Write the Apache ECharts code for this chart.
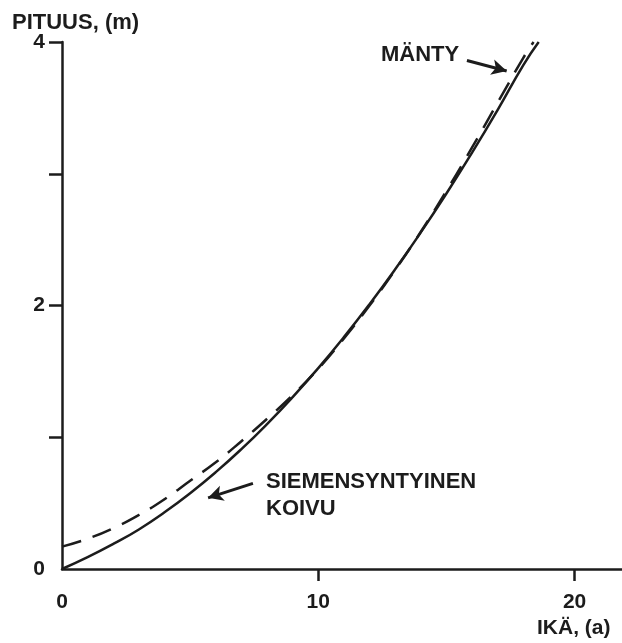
<!DOCTYPE html>
<html>
<head>
<meta charset="utf-8">
<script src="https://cdn.jsdelivr.net/npm/echarts@6/dist/echarts.min.js"></script>
<style>
  html, body { margin: 0; padding: 0; background: #fff; }
  #chart { width: 622px; height: 643px; }
</style>
</head>
<body>
<div id="chart"></div>
<script>
// Age in years (IKÄ) and height in metres (PITUUS)
const ages = [0, 1, 2, 3, 4, 5, 6, 7, 8, 9, 10, 11, 12, 13, 14, 15, 16, 17, 18];
// Seedling-origin birch (solid line)
const koivuAges = ages.concat([18.6]);
const koivuHeights = [0, 0.09, 0.19, 0.30, 0.43, 0.575, 0.735, 0.91, 1.10, 1.305, 1.525, 1.76, 2.01, 2.275, 2.555, 2.85, 3.16, 3.485, 3.825, 4.0];
// Scots pine (dashed line)
const mantyAges = ages.concat([18.4]);
const mantyHeights = [0.17, 0.23, 0.31, 0.41, 0.53, 0.67, 0.81, 0.97, 1.14, 1.32, 1.52, 1.75, 2.0, 2.27, 2.56, 2.87, 3.2, 3.54, 3.88, 4.0];

const xTickValues = [10, 20];
const xLabelValues = [0, 10, 20];
const yTickValues = [1, 2, 3, 4];
const yLabelValues = [0, 2, 4];

const ink = '#1c1c1c';
const font = 'Liberation Sans, Arial, Helvetica, sans-serif';

const pairs = (xs, ys) => xs.map((x, i) => [x, ys[i]]);

const chart = echarts.init(document.getElementById('chart'), null, { renderer: 'canvas' });

chart.setOption({
  backgroundColor: '#fff',
  animation: false,
  grid: { left: 62, right: 0, top: 42, bottom: 74 },
  xAxis: {
    type: 'value',
    min: 0,
    max: 21.85,
    interval: 10,
    splitLine: { show: false },
    axisLine: { show: true, onZero: false, lineStyle: { color: ink, width: 2.5 } },
    axisTick: { show: true, customValues: xTickValues, length: 12, inside: false, lineStyle: { color: ink, width: 2.5 } },
    axisLabel: { customValues: xLabelValues, margin: 23, color: ink, fontSize: 21, fontWeight: 'bold', fontFamily: font }
  },
  yAxis: {
    type: 'value',
    min: 0,
    max: 4,
    interval: 1,
    splitLine: { show: false },
    axisLine: { show: true, onZero: false, lineStyle: { color: ink, width: 2.5 } },
    axisTick: { show: true, customValues: yTickValues, length: 13, inside: false, lineStyle: { color: ink, width: 2.5 } },
    axisLabel: { customValues: yLabelValues, margin: 17, color: ink, fontSize: 21, fontWeight: 'bold', fontFamily: font }
  },
  series: [
    {
      name: 'SIEMENSYNTYINEN KOIVU',
      type: 'line',
      data: pairs(koivuAges, koivuHeights),
      smooth: true,
      showSymbol: false,
      clip: false,
      lineStyle: { color: ink, width: 2.5 },
      markLine: {
        silent: true,
        symbol: ['none', 'arrow'],
        symbolSize: [12, 15],
        label: { show: false },
        lineStyle: { color: ink, width: 3, type: 'solid' },
        data: [[{ coord: [7.45, 0.65] }, { coord: [5.7, 0.54] }]]
      }
    },
    {
      name: 'MÄNTY',
      type: 'line',
      data: pairs(mantyAges, mantyHeights),
      smooth: true,
      showSymbol: false,
      clip: false,
      lineStyle: { color: ink, width: 2.5, type: [20, 12] },
      markLine: {
        silent: true,
        symbol: ['none', 'arrow'],
        symbolSize: [12, 15],
        label: { show: false },
        lineStyle: { color: ink, width: 3, type: 'solid' },
        data: [[{ coord: [15.8, 3.86] }, { coord: [17.35, 3.78] }]]
      }
    }
  ],
  graphic: [
    { type: 'text', left: 12, top: 12, style: { text: 'PITUUS, (m)', fill: ink, font: 'bold 22px ' + font } },
    { type: 'text', left: 537, top: 618, style: { text: 'IKÄ, (a)', fill: ink, font: 'bold 21px ' + font } },
    { type: 'text', left: 381, top: 44, style: { text: 'MÄNTY', fill: ink, font: 'bold 22px ' + font } },
    { type: 'text', left: 266, top: 468, style: { text: 'SIEMENSYNTYINEN\nKOIVU', fill: ink, font: 'bold 22px ' + font, lineHeight: 27 } }
  ]
});
</script>
</body>
</html>
